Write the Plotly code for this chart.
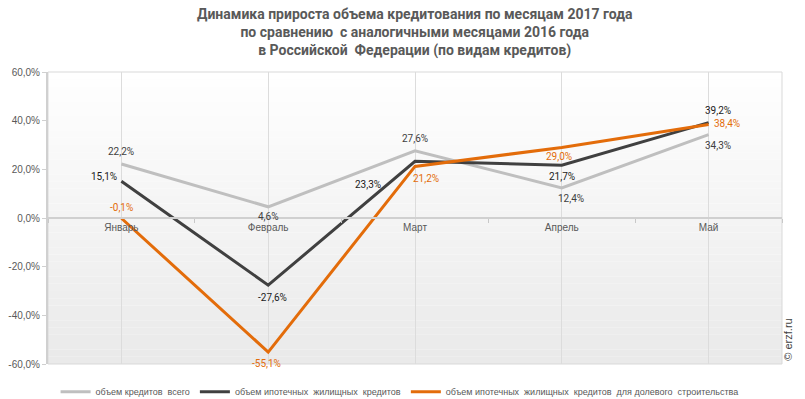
import plotly.graph_objects as go

months = ["Январь", "Февраль", "Март", "Апрель", "Май"]
total = [22.2, 4.6, 27.6, 12.4, 34.3]
mortgage = [15.1, -27.6, 23.3, 21.7, 39.2]
equity = [-0.1, -55.1, 21.2, 29.0, 38.4]
y_ticks = [-60, -40, -20, 0, 20, 40, 60]

names = ["объем кредитов  всего",
         "объем ипотечных  жилищных  кредитов",
         "объем ипотечных  жилищных  кредитов  для долевого  строительства"]
colors = ["#BFBFBF", "#404040", "#E36C0A"]
label_colors = ["#404040", "#1a1a1a", "#E36C0A"]
series = [total, mortgage, equity]

# label offsets (px) per series / point
offsets = [
    [(0, 12), (0, -10), (0, 12), (9, -11), (9, -11)],
    [(-17, 5), (4, -12), (-47, -23), (0, -11), (9, 12)],
    [(0, 11), (-2, -11), (11, -12), (-3, -9), (18, 1)],
]

W, H = 805, 399
M = dict(l=48, r=23, t=72, b=35)
plot_h = H - M["t"] - M["b"]

xidx = list(range(len(months)))


def pct(v):
    return f"{v:.1f}".replace(".", ",") + "%"


fig = go.Figure()

# gradient background
n = 40
for i in range(n):
    t = i / (n - 1)
    c = int(255 - 21 * t)
    fig.add_shape(type="rect", xref="x domain", yref="y domain",
                  x0=0, x1=1, y0=1 - (i + 1) / n, y1=1 - i / n,
                  fillcolor=f"rgb({c},{c},{c})", line_width=0, layer="below")

for s, name, col in zip(series, names, colors):
    fig.add_trace(go.Scatter(x=xidx, y=s, mode="lines", name=name,
                             line=dict(color=col, width=3)))

ann = []
for s, col, offs in zip(series, label_colors, offsets):
    for xi, v, (dx, dy) in zip(xidx, s, offs):
        ann.append(dict(x=xi, y=v, xref="x", yref="y", text=pct(v),
                        showarrow=False, xshift=dx, yshift=dy,
                        font=dict(size=10, color=col, family="Roboto")))

ann.append(dict(x=1.007, y=0.005, xref="paper", yref="paper", text="© erzf.ru",
                textangle=-90, showarrow=False, xanchor="center", yanchor="bottom",
                font=dict(size=11, color="#404040", family="Arial")))

ann.append(dict(x=0.5, y=(H - M["b"] - 4) / plot_h, xref="paper", yref="paper",
                xanchor="center", yanchor="top", showarrow=False, align="center",
                text="<b>Динамика прироста объема кредитования по месяцам 2017 года<br>"
                     "по сравнению  с аналогичными месяцами 2016 года<br>"
                     "в Российской  Федерации (по видам кредитов)</b>",
                font=dict(family="Roboto", size=14, color="#595959")))

fig.add_shape(type="rect", xref="x domain", yref="y domain", x0=0, x1=1, y0=0, y1=1,
              line=dict(color="#D9D9D9", width=1), layer="below")

fig.update_layout(
    width=W, height=H,
    margin=dict(M, autoexpand=False),
    paper_bgcolor="white", plot_bgcolor="white",
    showlegend=True,
    legend=dict(orientation="h", x=0.479, xanchor="center", y=-0.045, yanchor="top",
                font=dict(size=9, color="#595959", family="Arial"),
                itemwidth=30, tracegroupgap=0),
    annotations=ann,
    font=dict(family="Arial", size=10, color="#595959"),
)

fig.update_xaxes(
    range=[-0.5, len(months) - 0.5],
    tickvals=xidx, ticktext=months,
    anchor="free", position=0.5,
    showgrid=True, gridcolor="#DCDCDC", gridwidth=1,
    showline=True, linecolor="#D0D0D0", linewidth=2,
    ticks="", zeroline=False,
    minor=dict(tick0=0.5, dtick=1, ticks="outside", ticklen=4, tickcolor="#C8C8C8", showgrid=False),
    tickfont=dict(size=10, color="#595959", family="Arial"),
)
fig.update_yaxes(
    range=[-60, 60], tickvals=y_ticks, ticktext=[pct(v) for v in y_ticks],
    showgrid=False, zeroline=False,
    showline=True, linecolor="#D0D0D0", linewidth=2,
    ticks="outside", ticklen=4, tickcolor="#D0D0D0",
    tickfont=dict(size=10, color="#595959", family="Arial"),
)

fig.write_html("out.html", config={"displayModeBar": False},
               post_script="document.body.style.margin='0';document.body.style.overflow='hidden';")
